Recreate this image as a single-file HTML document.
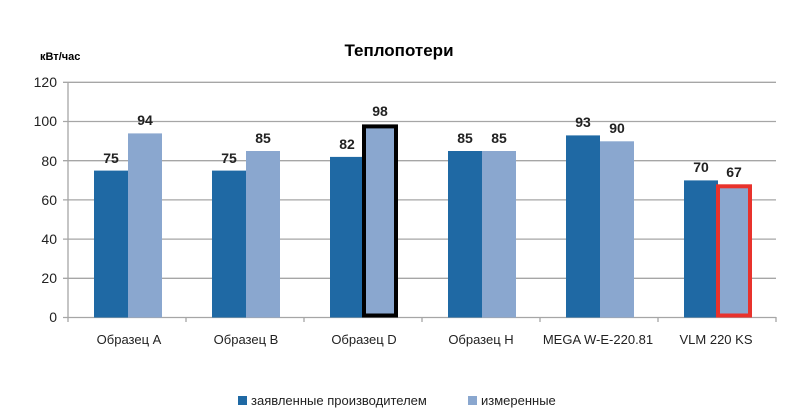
<!DOCTYPE html>
<html><head><meta charset="utf-8"><style>body{margin:0;background:#fff}</style></head><body>
<svg width="808" height="413" xmlns="http://www.w3.org/2000/svg" font-family="Liberation Sans, DejaVu Sans, sans-serif">
<rect width="808" height="413" fill="#fff"/>
<text x="399" y="56" font-size="17" font-weight="bold" text-anchor="middle" fill="#000">Теплопотери</text>
<text x="40" y="60" font-size="11" font-weight="bold" fill="#000">кВт/час</text>
<g stroke="#a6a6a6" stroke-width="1.3">
<line x1="63" y1="82.3" x2="776" y2="82.3"/><line x1="63" y1="121.5" x2="776" y2="121.5"/>
<line x1="63" y1="160.7" x2="776" y2="160.7"/><line x1="63" y1="199.9" x2="776" y2="199.9"/>
<line x1="63" y1="239.1" x2="776" y2="239.1"/><line x1="63" y1="278.3" x2="776" y2="278.3"/>
<line x1="63" y1="317.5" x2="776" y2="317.5"/><line x1="68" y1="82" x2="68" y2="322"/>
<line x1="186" y1="317" x2="186" y2="322"/><line x1="304" y1="317" x2="304" y2="322"/>
<line x1="422" y1="317" x2="422" y2="322"/><line x1="540" y1="317" x2="540" y2="322"/>
<line x1="658" y1="317" x2="658" y2="322"/><line x1="776" y1="317" x2="776" y2="322"/>
</g>
<g font-size="14" fill="#222" text-anchor="end">
<text x="57" y="87">120</text><text x="57" y="126">100</text><text x="57" y="166">80</text>
<text x="57" y="205">60</text><text x="57" y="244">40</text><text x="57" y="283">20</text><text x="57" y="322">0</text>
</g>
<g>
<rect x="94" y="170.6" width="34" height="146.9" fill="#1f69a4"/><rect x="128" y="133.4" width="34" height="184.1" fill="#8aa7cf"/>
<rect x="212" y="170.6" width="34" height="146.9" fill="#1f69a4"/><rect x="246" y="151" width="34" height="166.5" fill="#8aa7cf"/>
<rect x="330" y="156.9" width="34" height="160.6" fill="#1f69a4"/><rect x="364" y="126.4" width="32" height="189.1" fill="#8aa7cf" stroke="#000" stroke-width="4"/>
<rect x="448" y="151" width="34" height="166.5" fill="#1f69a4"/><rect x="482" y="151" width="34" height="166.5" fill="#8aa7cf"/>
<rect x="566" y="135.4" width="34" height="182.1" fill="#1f69a4"/><rect x="600" y="141.3" width="34" height="176.2" fill="#8aa7cf"/>
<rect x="684" y="180.4" width="34" height="137.1" fill="#1f69a4"/><rect x="718" y="186.3" width="32" height="129.2" fill="#8aa7cf" stroke="#e8322c" stroke-width="4"/>
</g>
<g font-size="14" font-weight="bold" fill="#222" text-anchor="middle">
<text x="111" y="163">75</text><text x="145" y="125">94</text>
<text x="229" y="163">75</text><text x="263" y="143">85</text>
<text x="347" y="149">82</text><text x="380" y="116">98</text>
<text x="465" y="143">85</text><text x="499" y="143">85</text>
<text x="583" y="127">93</text><text x="617" y="133">90</text>
<text x="701" y="172">70</text><text x="734" y="177">67</text>
</g>
<g font-size="13" fill="#222" text-anchor="middle">
<text x="129" y="344">Образец A</text><text x="246" y="344">Образец B</text><text x="364" y="344">Образец D</text>
<text x="481" y="344">Образец H</text><text x="598" y="344">MEGA W-E-220.81</text><text x="716" y="344">VLM 220 KS</text>
</g>
<rect x="238" y="396" width="9" height="9" fill="#1f69a4"/>
<text x="251" y="405" font-size="13" fill="#222">заявленные производителем</text>
<rect x="468" y="396" width="9" height="9" fill="#8aa7cf"/>
<text x="481" y="405" font-size="13" fill="#222">измеренные</text>
</svg>
</body></html>
